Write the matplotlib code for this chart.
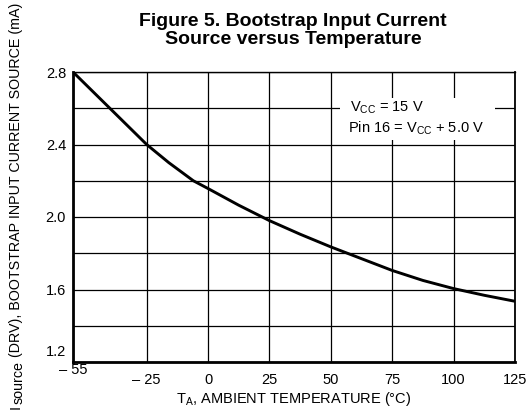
import matplotlib
matplotlib.use("Agg")
import matplotlib.pyplot as plt
from matplotlib.patches import Rectangle
from matplotlib import transforms

plt.rcParams['font.family'] = ['Liberation Sans', 'DejaVu Sans']
plt.rcParams['mathtext.default'] = 'regular'

# Data
temps = [-55, -40, -25, -16, -6, 0, 12.5, 25, 37.5, 50, 62.5, 75, 87.5, 100, 112.5, 125]
current = [2.80, 2.60, 2.40, 2.30, 2.20, 2.157, 2.065, 1.98, 1.905, 1.835, 1.77, 1.705, 1.65, 1.605, 1.568, 1.535]

x_ticks = [-55, -25, 0, 25, 50, 75, 100, 125]
x_tick_labels = ["– 55", "– 25", "0", "25", "50", "75", "100", "125"]
y_ticks = [1.2, 1.6, 2.0, 2.4, 2.8]
y_tick_labels = ["1.2", "1.6", "2.0", "2.4", "2.8"]
y_minor = [1.4, 1.8, 2.2, 2.6]

title = "Figure 5. Bootstrap Input Current\nSource versus Temperature"
x_label = "$T_A$, AMBIENT TEMPERATURE (°C)"
y_label_main = "(DRV), BOOTSTRAP INPUT CURRENT SOURCE (mA)"
y_label_sub = "source"
y_label_sym = "I"
note1 = "$V_{CC}$ = 15 V"
note2 = "Pin 16 = $V_{CC}$ + 5.0 V"

W, H = 527, 420
fig = plt.figure(figsize=(W / 100, H / 100), dpi=100)
ax = fig.add_axes([73 / W, (H - 362) / H, (515 - 73) / W, (362 - 72) / H])

ax.plot(temps, current, color='black', lw=2.1, zorder=3, solid_capstyle='butt')

ax.set_xlim(-55, 125)
ax.set_ylim(1.2, 2.8)
ax.set_xticks(x_ticks)
ax.set_xticklabels(x_tick_labels)
ax.set_yticks(y_ticks)
ax.set_yticklabels(y_tick_labels)
ax.set_yticks(y_minor, minor=True)
ax.set_axisbelow(True)
ax.grid(True, which='both', color='black', lw=0.9)
ax.tick_params(which='both', length=0, labelsize=10.5)
ax.tick_params(axis='x', pad=8)
ax.tick_params(axis='y', pad=5)

for s, w in zip(['left', 'bottom', 'top', 'right'], [2.0, 2.0, 1.0, 1.3]):
    ax.spines[s].set_linewidth(w)
    ax.spines[s].set_color('black')

# nudge the crowded corner labels
lab_y = ax.get_yticklabels()
lab_y[0].set_transform(lab_y[0].get_transform() + transforms.ScaledTranslation(0, 11 / 100, fig.dpi_scale_trans))
lab_x = ax.get_xticklabels()
lab_x[0].set_transform(lab_x[0].get_transform() + transforms.ScaledTranslation(0, 10 / 100, fig.dpi_scale_trans))

# note box
ax.add_patch(Rectangle((0.604, 0.766), 0.351, 0.144, transform=ax.transAxes,
                       facecolor='white', edgecolor='none', zorder=2))
ax.text(0.626, 0.862, note1, transform=ax.transAxes, fontsize=10.5, va='baseline', ha='left', zorder=4)
ax.text(0.622, 0.790, note2, transform=ax.transAxes, fontsize=10.5, va='baseline', ha='left', zorder=4)

ax.set_xlabel(x_label, fontsize=10.5, labelpad=2)
fig.text(293 / W, 1 - 13 / H, title, ha='center', va='top', fontsize=14, fontweight='bold', linespacing=1.05)

# y label: "I_source (DRV), BOOTSTRAP INPUT CURRENT SOURCE (mA)" built in pieces
ylfs = 10.3
t1 = fig.text(16 / W, 1 - 3 / H, y_label_main, rotation=90, ha='center', va='top', fontsize=ylfs)
t2 = ax.annotate(y_label_sub, xy=(0.5, 0), xycoords=t1, xytext=(3, -4), textcoords='offset pixels',
                 rotation=90, ha='center', va='top', fontsize=ylfs, annotation_clip=False)
t3 = ax.annotate(y_label_sym, xy=(0.5, 0), xycoords=t2, xytext=(-3, -1), textcoords='offset pixels',
                 rotation=90, ha='center', va='top', fontsize=ylfs, annotation_clip=False)

fig.savefig("out.png", dpi=100)
